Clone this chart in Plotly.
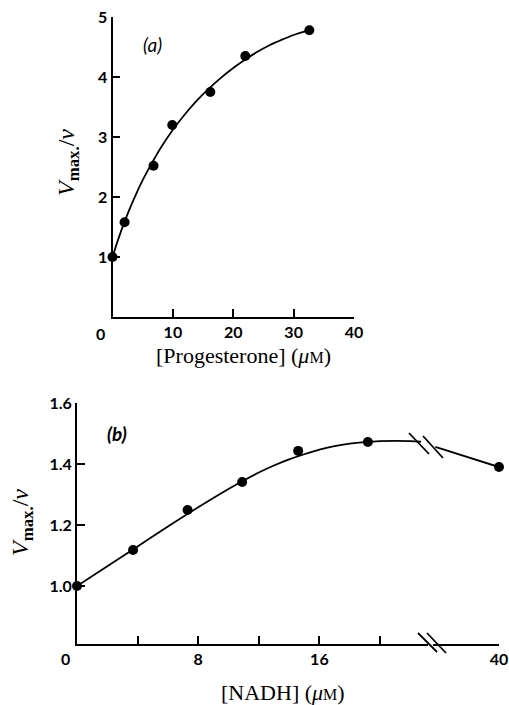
import plotly.graph_objects as go

W, H = 509, 705

# ---------------- data ----------------
# Panel (a): progesterone
prog_x = [0, 2, 6.8, 9.9, 16.2, 22, 32.6]
prog_y = [1.0, 1.58, 2.52, 3.2, 3.75, 4.35, 4.78]
prog_curve_x = [0, 1, 2, 3, 4, 5, 6, 7, 8, 10, 12, 14, 16, 18, 20, 22, 24, 26, 28, 30, 32.6]
prog_curve_y = [1.0, 1.31, 1.59, 1.84, 2.07, 2.28, 2.47, 2.65, 2.82, 3.12, 3.38, 3.61, 3.81, 3.99, 4.15,
                4.29, 4.42, 4.53, 4.62, 4.70, 4.78]
prog_xticks = [10, 20, 30, 40]
prog_yticks = [1, 2, 3, 4, 5]

# Panel (b): NADH
nadh_x = [0, 3.7, 7.3, 10.9, 14.6, 19.2]
nadh_y = [1.0, 1.118, 1.249, 1.341, 1.443, 1.472]
nadh_x_far = [40]
nadh_y_far = [1.39]
nadh_curve_x = [0, 2, 4, 6, 8, 10, 11, 12, 13, 14, 15, 16, 17, 18, 19, 20, 21, 22, 22.7]
nadh_curve_y = [1.0, 1.065, 1.13, 1.195, 1.258, 1.318, 1.346, 1.372, 1.395, 1.415, 1.432, 1.447,
                1.459, 1.467, 1.472, 1.475, 1.476, 1.475, 1.473]
nadh_far_curve_x = [35.8, 40]
nadh_far_curve_y = [1.456, 1.39]
nadh_xticks = [8, 16]
nadh_xticktext = ["8", "16"]
nadh_xminor = [4, 12, 20]
nadh_yticks = [1.0, 1.2, 1.4, 1.6]
nadh_yticktext = ["1.0", "1.2", "1.4", "1.6"]


def px(x):
    return x / W


def py(y):
    return 1 - y / H


fig = go.Figure()

line_style = dict(color="black", width=1.8)
marker_style = dict(color="black", size=10)

# Panel (a)
fig.add_trace(go.Scatter(x=prog_curve_x, y=prog_curve_y, mode="lines", line=dict(shape="spline", **line_style),
                         xaxis="x", yaxis="y", cliponaxis=False, hoverinfo="skip"))
fig.add_trace(go.Scatter(x=prog_x, y=prog_y, mode="markers", marker=marker_style,
                         xaxis="x", yaxis="y", cliponaxis=False))

# Panel (b)
fig.add_trace(go.Scatter(x=nadh_curve_x, y=nadh_curve_y, mode="lines", line=dict(shape="spline", **line_style),
                         xaxis="x2", yaxis="y2", cliponaxis=False, hoverinfo="skip"))
fig.add_trace(go.Scatter(x=nadh_x, y=nadh_y, mode="markers", marker=marker_style,
                         xaxis="x2", yaxis="y2", cliponaxis=False))
fig.add_trace(go.Scatter(x=nadh_far_curve_x, y=nadh_far_curve_y, mode="lines", line=line_style,
                         xaxis="x3", yaxis="y2", cliponaxis=False, hoverinfo="skip"))
fig.add_trace(go.Scatter(x=nadh_x_far, y=nadh_y_far, mode="markers", marker=marker_style,
                         xaxis="x3", yaxis="y2", cliponaxis=False))

tickfont = dict(family="Lato", size=16, color="black", weight="bold")
axis_common = dict(showline=True, linecolor="black", linewidth=1.8, ticks="inside", ticklen=8,
                   tickwidth=1.5, tickcolor="black", showgrid=False, zeroline=False, tickfont=tickfont,
                   automargin=False)

px_per_unit_b = (380 - 77) / 20.0

fig.update_layout(
    width=W, height=H, margin=dict(l=0, r=0, t=0, b=0, pad=0, autoexpand=False),
    paper_bgcolor="white", plot_bgcolor="white", showlegend=False,
    xaxis=dict(domain=[px(112.5), px(354)], range=[0, 40], anchor="y",
               tickvals=prog_xticks, **axis_common),
    yaxis=dict(domain=[py(317), py(17)], range=[0, 5], anchor="x",
               tickvals=prog_yticks, **axis_common),
    xaxis2=dict(domain=[px(77), px(428)], range=[0, (428 - 77) / px_per_unit_b], anchor="y2",
                tickvals=nadh_xticks, ticktext=nadh_xticktext,
                minor=dict(tickvals=nadh_xminor, ticks="inside", ticklen=8, tickwidth=1.5,
                           tickcolor="black", showgrid=False),
                **axis_common),
    yaxis2=dict(domain=[py(644), py(403)], range=[0.81, 1.6], anchor="x2",
                tickvals=nadh_yticks, ticktext=nadh_yticktext, **axis_common),
    xaxis3=dict(domain=[px(433), px(499)], range=[40 - (499 - 433) / px_per_unit_b, 40], anchor="y2",
                tickvals=[40], ticktext=["40"], **axis_common),
)

title_font = dict(family="Liberation Serif", size=22, color="black")
ylab = "<i>V</i><sub><b>max.</b></sub>/<i>v</i>"
unit = "(<i>μ</i><span style='font-size:16px'>M</span>)"
ylab_font = dict(family="Liberation Serif", size=24, color="black")
panel_font = dict(family="Lato", size=19, color="black")

annotations = [
    dict(x=px(100), y=py(333), text="0", font=tickfont),
    dict(x=px(65), y=py(658), text="0", font=tickfont),
    dict(x=px(243), y=py(356), text="[Progesterone] " + unit, font=title_font),
    dict(x=px(283), y=py(692), text="[NADH] " + unit, font=title_font),
    dict(x=px(68), y=py(163), text=ylab, font=ylab_font, textangle=-90),
    dict(x=px(22), y=py(523), text=ylab, font=ylab_font, textangle=-90),
    dict(x=px(152), y=py(45), text="<i>(a)</i>", font=panel_font),
    dict(x=px(117), y=py(433), text="<b><i>(b)</i></b>", font=panel_font),
]
for a in annotations:
    a.update(xref="paper", yref="paper", showarrow=False, xanchor="center", yanchor="middle")
fig.update_layout(annotations=annotations)

# axis-break marks (decorations)
breaks = [
    ((409, 433), (429, 454)), ((423, 436), (443, 458)),
    ((418, 633), (437, 652)), ((427, 633), (446, 653)),
]
shapes = []
for (x0, y0), (x1, y1) in breaks:
    shapes.append(dict(type="line", xref="paper", yref="paper", x0=px(x0), y0=py(y0), x1=px(x1), y1=py(y1),
                       line=dict(color="black", width=1.8)))
fig.update_layout(shapes=shapes)

fig.write_html("out.html")
